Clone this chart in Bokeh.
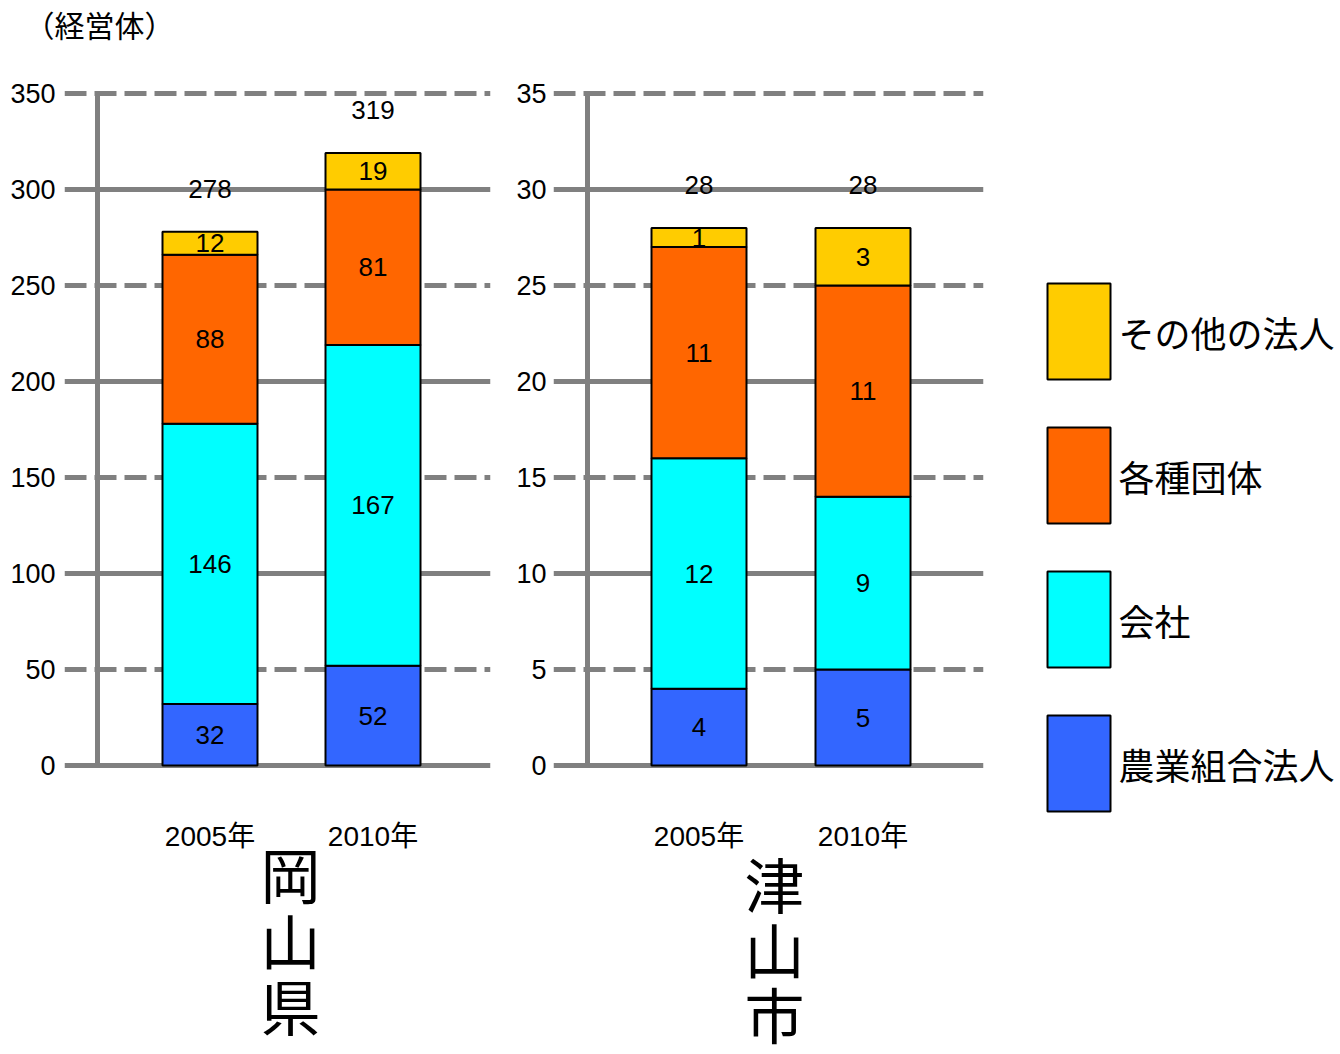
import numpy as np
from bokeh.plotting import figure
from bokeh.models import Range1d, FixedTicker, Grid
from bokeh.layouts import row
from bokeh.embed import file_html
from bokeh.resources import INLINE
from bokeh.core.properties import value

# ---------------- data ----------------
years = ["2005年", "2010年"]
categories = ["農業組合法人", "会社", "各種団体", "その他の法人"]
colors = ["#3366FF", "#00FFFF", "#FF6600", "#FFCC00"]

okayama_nogyo = [32, 52]
okayama_kaisha = [146, 167]
okayama_dantai = [88, 81]
okayama_sonota = [12, 19]
okayama_total = [278, 319]

tsuyama_nogyo = [4, 5]
tsuyama_kaisha = [12, 9]
tsuyama_dantai = [11, 11]
tsuyama_sonota = [1, 3]
tsuyama_total = [28, 28]

okayama_ticks = [0, 50, 100, 150, 200, 250, 300, 350]
tsuyama_ticks = [0, 5, 10, 15, 20, 25, 30, 35]

# ---------------- style ----------------
NUM_FONT = "Liberation Sans"
MIX_FONT = "Liberation Sans, Noto Sans CJK JP"
CJK_FONT = "Noto Sans CJK JP"
GRID = "#808080"
H = 1054
FRAME_TOP, ZERO_Y, MAX_Y = 48, 765, 93


def panel(name, series, totals, ticks, width, fl, fr, center0, unit,
          axis_px, name_x, name_top, pitch, std):
    ymax = ticks[-1]
    ppu = (ZERO_Y - MAX_Y) / ymax
    y0 = -(H - ZERO_Y) / ppu
    y1 = (ZERO_Y - FRAME_TOP) / ppu
    x0 = (fl - center0) / unit
    x1 = (fr - center0) / unit
    p = figure(width=width, height=H, x_range=Range1d(x0, x1),
               y_range=Range1d(y0, y1), output_backend="svg",
               toolbar_location=None, x_axis_location=None,
               min_border_left=fl, min_border_right=width - fr,
               min_border_top=FRAME_TOP, min_border_bottom=0)
    p.outline_line_color = None
    p.xgrid.visible = False
    solid = [t for i, t in enumerate(ticks) if i % 2 == 0]
    dashed = [t for i, t in enumerate(ticks) if i % 2 == 1]
    p.ygrid.ticker = FixedTicker(ticks=solid)
    p.ygrid.grid_line_color = GRID
    p.ygrid.grid_line_width = 5
    p.add_layout(Grid(dimension=1, ticker=FixedTicker(ticks=dashed),
                      grid_line_color=GRID, grid_line_width=5,
                      grid_line_dash="22 8"))

    # y axis
    p.yaxis.ticker = FixedTicker(ticks=ticks)
    p.yaxis.axis_line_color = None
    p.yaxis.major_tick_line_color = None
    p.yaxis.minor_tick_line_color = None
    p.yaxis.major_tick_out = 0
    p.yaxis.major_tick_in = 0
    p.yaxis.major_label_standoff = std
    p.yaxis.major_label_text_font = NUM_FONT
    p.yaxis.major_label_text_font_size = "27px"
    p.yaxis.major_label_text_color = "black"

    idx = list(range(len(years)))

    # vertical axis line
    ax = (axis_px - center0) / unit
    p.segment(x0=[ax], y0=[ticks[0]], x1=[ax], y1=[ticks[-1]],
              line_color=GRID, line_width=5)

    # stacked bars
    data = {"x": idx}
    for c, s in zip(categories, series):
        data[c] = s
    p.vbar_stack(categories, x="x", width=95 / unit, source=data,
                 fill_color=colors, line_color="black", line_width=2)

    arr = np.array(series, dtype=float)
    tops = arr.cumsum(axis=0)
    mids = tops - arr / 2
    lx, ly, lt = [], [], []
    for k in range(arr.shape[0]):
        for i in idx:
            lx.append(i)
            ly.append(mids[k, i])
            lt.append(str(series[k][i]))
    p.text(x=lx, y=ly, text=lt, text_align="center", text_baseline="middle",
           text_font=value(NUM_FONT), text_font_size="26px",
           text_color="black")
    p.text(x=idx, y=tops[-1], text=[str(t) for t in totals],
           text_align="center", text_baseline="bottom", y_offset=-34,
           text_font=value(NUM_FONT), text_font_size="26px",
           text_color="black")

    # year category labels
    p.text(x=idx, y=[-(836 - ZERO_Y) / ppu] * len(idx), text=years,
           text_align="center", text_baseline="middle",
           text_font=value(MIX_FONT), text_font_size="28px",
           text_color="black")

    # region name, written vertically one character per line
    chars = list(name)
    nx = (name_x - center0) / unit
    ny = [(ZERO_Y - (name_top + pitch * j)) / ppu
          for j in range(len(chars))]
    p.text(x=[nx] * len(chars), y=ny, text=chars, text_align="center",
           text_baseline="top", text_font=value(CJK_FONT),
           text_font_size="60px", text_color="black")
    return p


p1 = panel("岡山県",
           [okayama_nogyo, okayama_kaisha, okayama_dantai, okayama_sonota],
           okayama_total, okayama_ticks, 500, 64, 490, 209.5, 163, 97,
           290, 828, 66, 9)

p2 = panel("津山市",
           [tsuyama_nogyo, tsuyama_kaisha, tsuyama_dantai, tsuyama_sonota],
           tsuyama_total, tsuyama_ticks, 500, 53, 483, 198.5, 164, 87,
           274, 838, 65, 7)

# unit title
p1.title.text = "（経営体）"
p1.title.align = "left"
p1.title.vertical_align = "top"
p1.title.offset = -40
p1.title.standoff = 2
p1.title.text_font = CJK_FONT
p1.title.text_font_size = "30px"
p1.title.text_font_style = "normal"
p1.title.text_color = "black"

# legend panel (frame starts at FRAME_TOP because the row aligns frames)
p3 = figure(width=340, height=H, x_range=Range1d(0, 340),
            y_range=Range1d(H, FRAME_TOP), output_backend="svg",
            toolbar_location=None, x_axis_location=None,
            y_axis_location=None, min_border=0, min_border_top=FRAME_TOP)
p3.outline_line_color = None
p3.grid.visible = False
n = len(categories)
order = list(range(n))[::-1]          # top item = last stacked category
ly = [331 + 144 * j for j in range(n)]
p3.rect(x=[78.5] * n, y=ly, width=63, height=96,
        fill_color=[colors[k] for k in order], line_color="black",
        line_width=2)
p3.text(x=[118] * n, y=ly, text=[categories[k] for k in order],
        text_align="left", text_baseline="middle",
        text_font=value(CJK_FONT), text_font_size="36px", text_color="black")

layout = row(p1, p2, p3)
open("out.html", "w").write(file_html(layout, INLINE))
